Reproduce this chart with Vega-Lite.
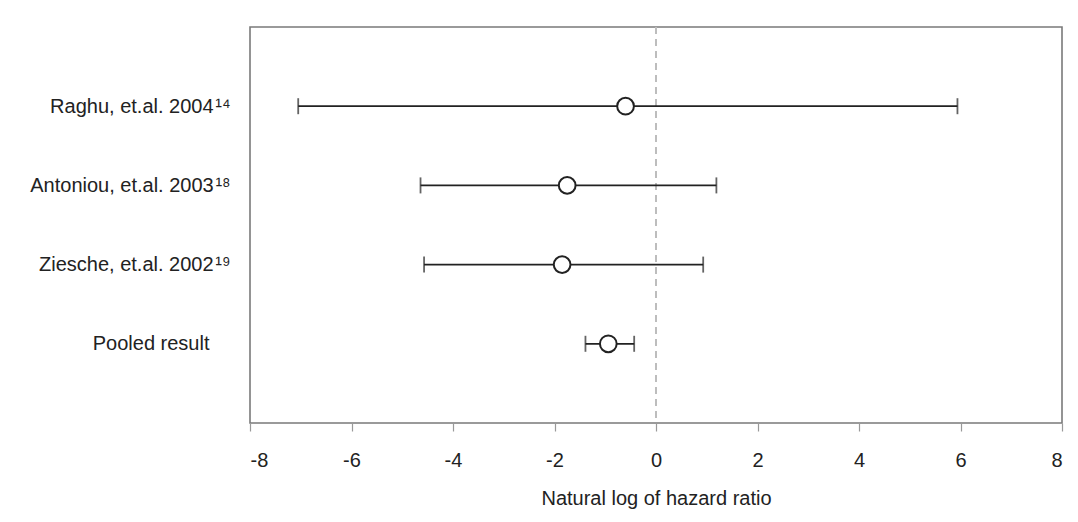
{
  "$schema": "https://vega.github.io/schema/vega-lite/v6.json",
  "autosize": {"type": "none"},
  "width": 812,
  "height": 396,
  "padding": {"left": 250, "top": 27, "right": 16, "bottom": 99},
  "background": "white",
  "config": {
    "font": "Liberation Sans",
    "view": {"stroke": "#7a7a7a", "strokeWidth": 1.6}
  },
  "data": {
    "values": [
      {"label": "Raghu, et.al. 2004\u200a¹⁴", "est": -0.6, "lo": -7.05, "hi": 5.94},
      {"label": "Antoniou, et.al. 2003\u200a¹⁸", "est": -1.75, "lo": -4.64, "hi": 1.19},
      {"label": "Ziesche, et.al. 2002\u200a¹⁹", "est": -1.85, "lo": -4.57, "hi": 0.93},
      {"label": "Pooled result", "est": -0.94, "lo": -1.39, "hi": -0.43}
    ]
  },
  "encoding": {
    "y": {
      "field": "label",
      "type": "nominal",
      "sort": null,
      "scale": {"type": "point", "padding": 1},
      "axis": {
        "title": null,
        "ticks": false,
        "domain": false,
        "labelFontSize": 20,
        "labelColor": "#222",
        "labelLimit": 400,
        "labelPadding": {"condition": {"test": "datum.value == 'Pooled result'", "value": 41}, "value": 20}
      }
    }
  },
  "layer": [
    {
      "mark": {"type": "rule", "color": "#bdbdbd", "strokeWidth": 1.5, "strokeDash": [7, 5]},
      "encoding": {"x": {"datum": 0, "type": "quantitative"}, "y": null}
    },
    {
      "mark": {"type": "rule", "color": "#222", "strokeWidth": 1.8},
      "encoding": {
        "x": {
          "field": "lo",
          "type": "quantitative",
          "scale": {"domain": [-8, 8], "nice": false, "zero": false},
          "axis": {
            "values": [-8, -6, -4, -2, 0, 2, 4, 6, 8],
            "labelExpr": "'' + datum.value",
            "grid": false,
            "domain": false,
            "tickSize": 8,
            "tickColor": "#999",
            "tickWidth": 1.2,
            "labelFontSize": 20,
            "labelColor": "#222",
            "labelPadding": 19,
            "title": "Natural log of hazard ratio",
            "titleFontSize": 20,
            "titleFontWeight": "normal",
            "titleColor": "#222",
            "titlePadding": 18
          }
        },
        "x2": {"field": "hi"}
      }
    },
    {
      "mark": {"type": "tick", "orient": "vertical", "color": "#222", "thickness": 1.8, "size": 16},
      "encoding": {"x": {"field": "lo", "type": "quantitative"}}
    },
    {
      "mark": {"type": "tick", "orient": "vertical", "color": "#222", "thickness": 1.8, "size": 16},
      "encoding": {"x": {"field": "hi", "type": "quantitative"}}
    },
    {
      "mark": {"type": "point", "shape": "circle", "filled": true, "fill": "white", "stroke": "#222", "strokeWidth": 2, "size": 280, "opacity": 1},
      "encoding": {"x": {"field": "est", "type": "quantitative"}}
    }
  ]
}
